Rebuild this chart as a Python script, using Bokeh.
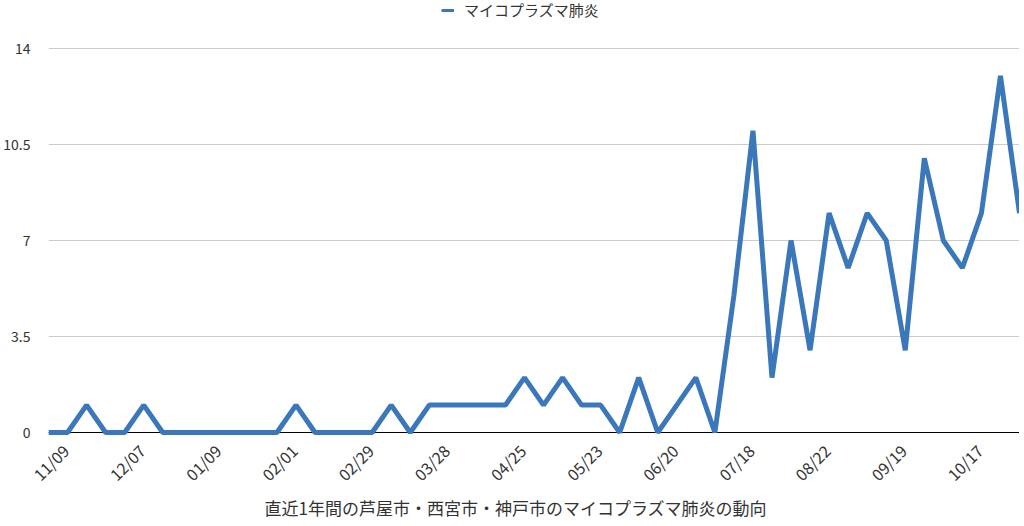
from math import pi
from bokeh.plotting import figure
from bokeh.models import Range1d, FixedTicker, Span, Legend, LegendItem, Title, ColumnDataSource
from bokeh.embed import file_html
from bokeh.resources import INLINE

# ---- data ----
weeks = list(range(52))
cases = [0, 0, 1, 0, 0, 1, 0, 0, 0, 0, 0, 0, 0, 1, 0, 0, 0, 0, 1, 0,
         1, 1, 1, 1, 1, 2, 1, 2, 1, 1, 0, 2, 0, 1, 2, 0, 5, 11, 2, 7,
         3, 8, 6, 8, 7, 3, 10, 7, 6, 8, 13, 8]
tick_idx = [0, 4, 8, 12, 16, 20, 24, 28, 32, 36, 40, 44, 48]
tick_labels = ["11/09", "12/07", "01/09", "02/01", "02/29", "03/28", "04/25",
               "05/23", "06/20", "07/18", "08/22", "09/19", "10/17"]
y_ticks = [0, 3.5, 7, 10.5, 14]
y_labels = ["0", "3.5", "7", "10.5", "14"]
series_name = "マイコプラズマ肺炎"
chart_title = "直近1年間の芦屋市・西宮市・神戸市のマイコプラズマ肺炎の動向"

FONT = "Noto Sans CJK JP"
BLUE = "#3a77bb"
LABEL_SHIFT = 0.9   # rotated labels are centred on their week in the original

p = figure(frame_width=971, frame_height=436, output_backend="svg", toolbar_location=None,
           x_range=Range1d(0, 51), y_range=Range1d(-0.146, 15.75),
           min_border_left=41, min_border_right=0, min_border_top=0,
           min_border_bottom=86)
p.outline_line_alpha = 0
p.background_fill_color = "white"
p.border_fill_color = "white"

# grid
p.xgrid.visible = False
p.ygrid.ticker = FixedTicker(ticks=y_ticks)
p.ygrid.grid_line_color = "#cccccc"
p.ygrid.grid_line_width = 1

# zero axis line
p.add_layout(Span(location=0, dimension="width", line_color="black",
                  line_width=1.2, level="underlay"))

# main line
p.line(weeks, cases, line_color=BLUE, line_width=5, line_join="bevel")

# legend (thin swatch)
swatch_src = ColumnDataSource(data=dict(x=[float("nan")], y=[float("nan")]))
swatch = p.line("x", "y", source=swatch_src, line_color=BLUE, line_width=3)
legend = Legend(items=[LegendItem(label=series_name, renderers=[swatch])],
                location=(393, 416), orientation="horizontal",
                border_line_alpha=0, background_fill_alpha=0,
                glyph_width=13, glyph_height=12, label_height=12,
                label_text_font=FONT, label_text_font_size="15px",
                label_text_color="#333333", label_standoff=10,
                padding=0, margin=0)
p.add_layout(legend)

# y axis
p.yaxis.ticker = FixedTicker(ticks=y_ticks)
p.yaxis.major_label_overrides = dict(zip(y_ticks, y_labels))
p.yaxis.axis_line_alpha = 0
p.yaxis.major_tick_line_alpha = 0
p.yaxis.minor_tick_line_alpha = 0
p.yaxis.major_label_standoff = 12
p.yaxis.major_label_text_font = FONT
p.yaxis.major_label_text_font_size = "14px"
p.yaxis.major_label_text_color = "#333333"

# x axis
x_ticks = [i + LABEL_SHIFT for i in tick_idx]
p.xaxis.ticker = FixedTicker(ticks=x_ticks)
p.xaxis.major_label_overrides = dict(zip(x_ticks, tick_labels))
p.xaxis.axis_line_alpha = 0
p.xaxis.major_tick_line_alpha = 0
p.xaxis.minor_tick_line_alpha = 0
p.xaxis.major_label_orientation = pi / 4
p.xaxis.major_label_standoff = 5
p.xaxis.major_label_text_font = FONT
p.xaxis.major_label_text_font_size = "16px"
p.xaxis.major_label_text_color = "#333333"

# bottom title
p.add_layout(Title(text=chart_title, align="left", offset=216, text_font=FONT,
                   text_font_size="17px", text_font_style="normal",
                   text_color="#333333", standoff=-9), "below")

open("out.html", "w").write(file_html(p, INLINE))
